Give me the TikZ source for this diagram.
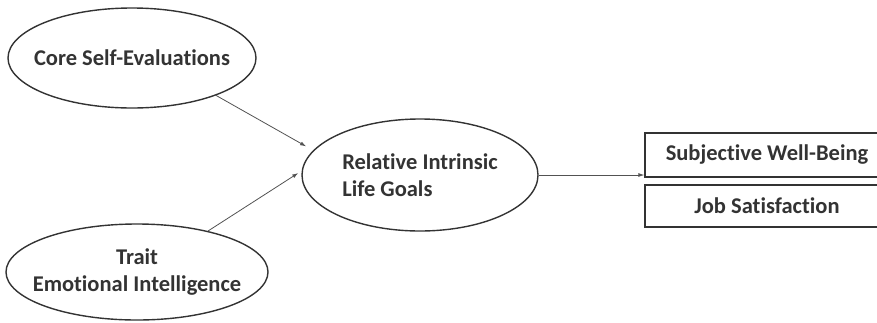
\documentclass[tikz,border=0pt]{standalone}
\usepackage{fontspec}
\setmainfont[Ligatures=NoCommon]{Carlito}
\usetikzlibrary{shapes.geometric,arrows.meta}
\definecolor{ink}{HTML}{333333}
\begin{document}
\begin{tikzpicture}[x=1pt,y=-1pt,inner sep=0,arrows={-Latex[length=6pt,width=4pt]},
		latent/.style={ellipse,draw=ink,line width=1.4pt},
		lbl/.style={text=ink,font=\bfseries\fontsize{22.5}{27}\selectfont,align=left},
		observed/.style={rectangle,draw=ink,line width=1.3pt,text=ink,font=\bfseries\fontsize{22.5}{27}\selectfont},
		path/.style={draw=ink!85,line width=0.8pt}]
		\useasboundingbox (0,0) rectangle (877,322);
		\node[latent,minimum width=248pt,minimum height=100pt] (cse) at (132,58) {};
		\node[lbl] (cset) at (cse) {Core Self-Evaluations};
		\node[latent,minimum width=262pt,minimum height=96pt] (tei) at (137,272) {};
		\node[lbl,align=center] (teit) at (tei) {Trait\\Emotional Intelligence};
		\node[latent,minimum width=236pt,minimum height=112pt] (rilg) at (420,175) {};
		\node[lbl] (rilgt) at (rilg) {Relative Intrinsic\\Life Goals};
		\node[observed,minimum width=244pt,minimum height=44pt] (swb) at (767,155) {Subjective Well-Being};
		\node[observed,minimum width=244pt,minimum height=42pt] (js) at (767,206) {Job Satisfaction};
		% paths
		\draw[path,shorten >=8pt] (cse.-24) -- (rilg.167);
		\draw[path,shorten >=4pt] (tei.30) -- (rilg.178);
		\draw[path] (rilg.east) -- (swb.west |- rilg.east);
	\end{tikzpicture}
\end{document}
